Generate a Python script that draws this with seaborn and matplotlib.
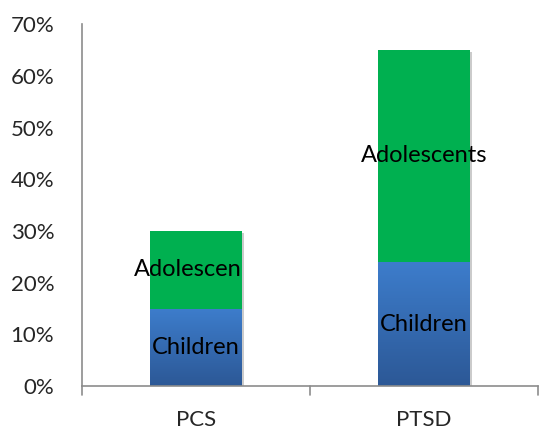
import numpy as np
import pandas as pd
import matplotlib
matplotlib.use("Agg")
import matplotlib.pyplot as plt
import matplotlib.patheffects as pe
import seaborn as sns

# Data
categories = ["PCS", "PTSD"]
children = [15, 24]
adolescents = [15, 41]
child_labels = ["Children", "Children"]
adol_labels = ["Adolescen", "Adolescents"]
y_ticks = [0, 10, 20, 30, 40, 50, 60, 70]

sns.set_style("white")
plt.rcParams["font.family"] = ["Lato", "DejaVu Sans"]

green = "#00b050"
blue_top = "#3d7dcc"
blue_bottom = "#2c5896"
axis_grey = "#8c8c8c"
FS = 16
FS_IN = 17

totals = [c + a for c, a in zip(children, adolescents)]
df = pd.DataFrame({"cat": categories, "children": children, "total": totals})

fig = plt.figure(figsize=(5.39, 4.30), dpi=100)
ax = fig.add_axes([0.152, 0.102, 0.846, 0.842])

shadow = [pe.SimplePatchShadow(offset=(1.5, -1.5), shadow_rgbFace="#999999", alpha=0.5), pe.Normal()]

sns.barplot(data=df, x="cat", y="total", color=green, saturation=1, width=0.4,
            ax=ax, linewidth=0, zorder=2)
n_total = len(ax.patches)
sns.barplot(data=df, x="cat", y="children", color=blue_top, saturation=1, width=0.4,
            ax=ax, linewidth=0, zorder=3)

for p in ax.patches[:n_total]:
    p.set_path_effects(shadow)

# vertical gradient on the children segments
grad = np.linspace(0, 1, 256).reshape(-1, 1)
cmap = matplotlib.colors.LinearSegmentedColormap.from_list("cg", [blue_bottom, blue_top])
for p in ax.patches[n_total:]:
    x0, y0 = p.get_x(), p.get_y()
    w, h = p.get_width(), p.get_height()
    im = ax.imshow(grad, extent=[x0, x0 + w, y0, y0 + h], origin="lower",
                   cmap=cmap, aspect="auto", zorder=4)
    im.set_clip_path(p)

ax.set_xlim(-0.5, 1.5)
ax.set_ylim(0, 70)
ax.set_aspect("auto")

# in-bar labels; the shortened PCS label ends at its bar's right edge
bar_patches = ax.patches[:n_total]
for i in range(len(categories)):
    ax.text(i, children[i] / 2, child_labels[i], ha="center", va="center",
            fontsize=FS_IN, color="black", zorder=6)
    if adol_labels[i] != "Adolescents":
        bp = bar_patches[i]
        ax.text(bp.get_x() + bp.get_width(), children[i] + adolescents[i] / 2,
                adol_labels[i], ha="right", va="center", fontsize=FS_IN,
                color="black", zorder=6)
    else:
        ax.text(i, children[i] + adolescents[i] / 2, adol_labels[i], ha="center",
                va="center", fontsize=FS_IN, color="black", zorder=6)

ax.set_yticks(y_ticks)
ax.set_yticklabels([f"{v}%" for v in y_ticks], fontsize=FS)
ax.set_xticks([0, 1])
ax.set_xticklabels(categories, fontsize=FS)
ax.tick_params(axis="x", length=0, pad=17)
ax.tick_params(axis="y", length=8, width=1, color=axis_grey, direction="out", pad=12)
for b in [-0.5, 0.5, 1.5]:
    ax.plot([b, b], [0, -0.025], transform=ax.get_xaxis_transform(), clip_on=False,
            color=axis_grey, lw=1.2)
ax.set_xlabel("")
ax.set_ylabel("")

for s in ["top", "right"]:
    ax.spines[s].set_visible(False)
for s in ["left", "bottom"]:
    ax.spines[s].set_color(axis_grey)
    ax.spines[s].set_linewidth(1.2)
    ax.spines[s].set_zorder(7)

fig.savefig("out.png", dpi=100)
